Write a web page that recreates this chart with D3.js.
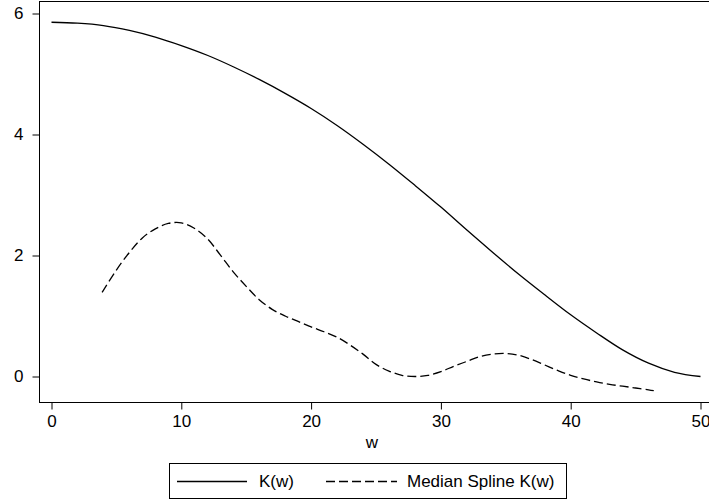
<!DOCTYPE html>
<html>
<head>
<meta charset="utf-8">
<script src="https://cdn.jsdelivr.net/npm/d3@7"></script>
<style>
	body { margin: 0; background: #fff; }
	svg { display: block; font-family: "Liberation Sans", Arial, sans-serif; }
</style>
</head>
<body>
<div id="container"></div>
<script>
// K(w) curve
var kW = [0, 2, 4, 6, 8, 10, 12, 14, 16, 18, 20, 22, 24, 26, 28, 30, 32, 34, 36, 38, 40, 42, 44, 46, 48, 50];
var kVal = [5.855, 5.84, 5.80, 5.72, 5.61, 5.47, 5.31, 5.12, 4.91, 4.68, 4.43, 4.15, 3.84, 3.51, 3.16, 2.80, 2.42, 2.05, 1.69, 1.35, 1.02, 0.72, 0.44, 0.22, 0.07, 0.0];

// Median spline K(w)
var splW = [3.9, 5, 6, 7, 8, 9, 10, 11, 12, 13, 14, 15, 16, 17, 18, 19, 20, 21, 22, 23, 24, 25, 26, 27, 28, 29, 30, 31, 32, 33, 34, 35, 36, 37, 38, 39, 40, 41, 42, 43, 44, 45, 46, 46.4];
var splVal = [1.39, 1.76, 2.05, 2.29, 2.44, 2.53, 2.54, 2.45, 2.28, 2.01, 1.73, 1.49, 1.27, 1.11, 1.00, 0.91, 0.82, 0.74, 0.65, 0.52, 0.37, 0.20, 0.09, 0.02, 0.00, 0.02, 0.08, 0.17, 0.25, 0.33, 0.37, 0.38, 0.35, 0.28, 0.19, 0.10, 0.02, -0.04, -0.09, -0.13, -0.16, -0.19, -0.22, -0.235];

var xTicks = [0, 10, 20, 30, 40, 50];
var yTicks = [0, 2, 4, 6];
var legendLabels = ["K(w)", "Median Spline K(w)"];

var w = 709, h = 499;
var fontSize = "17px";

var svg = d3.select("#container")
	.append("svg")
	.attr("width", w)
	.attr("height", h);

var xScale = d3.scaleLinear().domain([0, 50]).range([51.5, 700.5]);
var yScale = d3.scaleLinear().domain([0, 6]).range([376.5, 13.5]);

// plot region frame (right edge runs off the picture)
svg.append("rect")
	.attr("x", 39.5)
	.attr("y", 1.5)
	.attr("width", 680)
	.attr("height", 401)
	.attr("fill", "none")
	.attr("stroke", "#000")
	.attr("stroke-width", 1);

// axes
var xAxis = svg.append("g")
	.attr("transform", "translate(0,402.5)")
	.call(d3.axisBottom(xScale).tickValues(xTicks).tickFormat(d3.format("d")).tickSize(7).tickPadding(5));

var yAxis = svg.append("g")
	.attr("transform", "translate(39.5,0)")
	.call(d3.axisLeft(yScale).tickValues(yTicks).tickFormat(d3.format("d")).tickSize(7).tickPadding(9));

[xAxis, yAxis].forEach(function(ax) {
	ax.select(".domain").remove();
	ax.selectAll("line").attr("stroke", "#000");
	ax.selectAll("text")
		.attr("font-family", "Liberation Sans, Arial, sans-serif")
		.attr("font-size", fontSize)
		.attr("fill", "#000");
});

// x title
svg.append("text")
	.attr("x", 372)
	.attr("y", 448)
	.attr("text-anchor", "middle")
	.attr("font-size", fontSize)
	.text("w");

// lines
var line = d3.line()
	.x(function(d) { return xScale(d[0]); })
	.y(function(d) { return yScale(d[1]); })
	.curve(d3.curveMonotoneX);

svg.append("path")
	.datum(d3.zip(kW, kVal))
	.attr("d", line)
	.attr("fill", "none")
	.attr("stroke", "#000")
	.attr("stroke-width", 1.3);

svg.append("path")
	.datum(d3.zip(splW, splVal))
	.attr("d", d3.line()
		.x(function(d) { return xScale(d[0]); })
		.y(function(d) { return yScale(d[1]); })
		.curve(d3.curveCatmullRom))
	.attr("fill", "none")
	.attr("stroke", "#000")
	.attr("stroke-width", 1.3)
	.attr("stroke-dasharray", "9,4");

// legend
var legend = svg.append("g").attr("class", "legend");

legend.append("rect")
	.attr("x", 169.5)
	.attr("y", 463.5)
	.attr("width", 397)
	.attr("height", 35)
	.attr("fill", "#fff")
	.attr("stroke", "#000")
	.attr("stroke-width", 1);

var legendItems = [
	{x1: 177, x2: 247, tx: 259, dash: null},
	{x1: 326, x2: 397, tx: 407, dash: "9,4"}
];

legend.selectAll("line")
	.data(legendItems)
	.enter()
	.append("line")
	.attr("x1", function(d) { return d.x1; })
	.attr("x2", function(d) { return d.x2; })
	.attr("y1", 481.5)
	.attr("y2", 481.5)
	.attr("stroke", "#000")
	.attr("stroke-width", 1.3)
	.attr("stroke-dasharray", function(d) { return d.dash; });

legend.selectAll("text")
	.data(legendItems)
	.enter()
	.append("text")
	.attr("x", function(d) { return d.tx; })
	.attr("y", 487)
	.attr("font-size", fontSize)
	.text(function(d, i) { return legendLabels[i]; });
</script>
</body>
</html>
